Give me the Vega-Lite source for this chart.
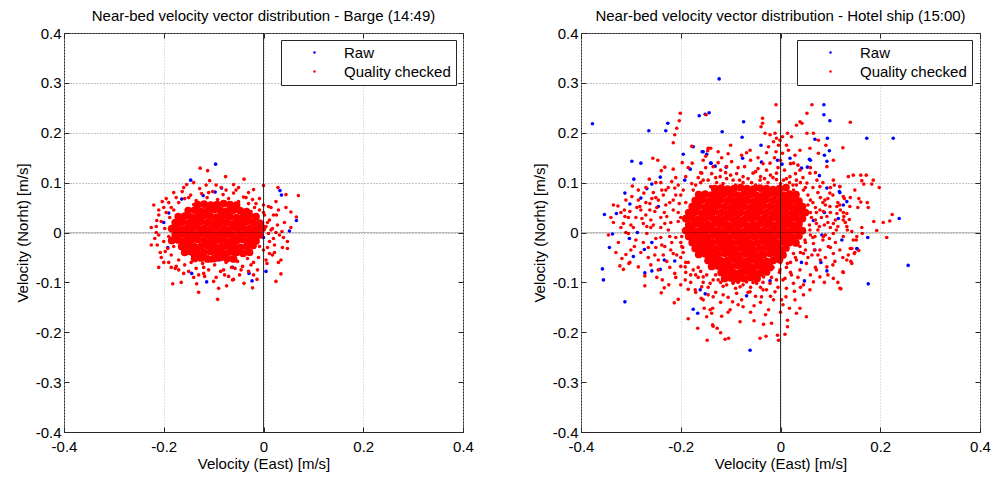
{
"$schema":"https://vega.github.io/schema/vega-lite/v6.json",
"padding":{"left":14,"top":8,"right":5,"bottom":5},
"background":"#ffffff",
"config":{
 "font":"Liberation Sans",
 "view":{"stroke":"#262626","strokeWidth":1},
 "axis":{"labelFont":"Liberation Sans","labelFontSize":15,"labelColor":"#000000","titleFont":"Liberation Sans","titleFontSize":15,"titleFontWeight":"normal","titleColor":"#000000","domain":false,"tickColor":"#262626","tickSize":-5,"tickWidth":1,"labelOverlap":false,"labelBound":false},
 "title":{"font":"Liberation Sans","fontSize":15,"fontWeight":"normal","color":"#000000","offset":2}
},
"bounds":"flush",
"spacing":118,
"resolve":{"scale":{"color":"independent"}},
"datasets":{
"L_raw":[{"x":-0.096,"y":0.137},{"x":-0.146,"y":0.105},{"x":0.033,"y":0.084},{"x":0.036,"y":0.075},{"x":0.066,"y":0.024},{"x":0.052,"y":0.003},{"x":-0.164,"y":0.067},{"x":-0.121,"y":0.074},{"x":-0.084,"y":0.089},{"x":-0.097,"y":0.081},{"x":-0.19,"y":0.039},{"x":-0.002,"y":0.02},{"x":-0.144,"y":-0.082},{"x":-0.114,"y":-0.099},{"x":-0.029,"y":-0.082},{"x":-0.023,"y":-0.097},{"x":0.005,"y":-0.078},{"x":-0.062,"y":-0.07},{"x":-0.09,"y":-0.055},{"x":-0.057,"y":-0.044},{"x":-0.142,"y":-0.047},{"x":-0.192,"y":-0.03},{"x":-0.04,"y":-0.016},{"x":0.0,"y":-0.01},{"x":-0.005,"y":0.005},{"x":-0.2,"y":0.02}],
"L_core":[
{"x":-0.132,"y":0.056},{"x":-0.119,"y":0.057},{"x":-0.106,"y":0.055},{"x":-0.093,"y":0.056},{"x":-0.080,"y":0.058},{"x":-0.067,"y":0.056},{"x":-0.054,"y":0.055},
{"x":-0.151,"y":0.044},{"x":-0.138,"y":0.045},{"x":-0.125,"y":0.043},{"x":-0.112,"y":0.044},{"x":-0.099,"y":0.046},{"x":-0.086,"y":0.044},{"x":-0.073,"y":0.043},{"x":-0.060,"y":0.045},{"x":-0.047,"y":0.044},{"x":-0.034,"y":0.042},
{"x":-0.171,"y":0.032},{"x":-0.158,"y":0.033},{"x":-0.145,"y":0.031},{"x":-0.132,"y":0.032},{"x":-0.119,"y":0.034},{"x":-0.106,"y":0.032},{"x":-0.093,"y":0.031},{"x":-0.080,"y":0.033},{"x":-0.067,"y":0.032},{"x":-0.054,"y":0.030},{"x":-0.041,"y":0.032},{"x":-0.028,"y":0.034},{"x":-0.015,"y":0.032},
{"x":-0.177,"y":0.020},{"x":-0.164,"y":0.021},{"x":-0.151,"y":0.019},{"x":-0.138,"y":0.020},{"x":-0.125,"y":0.022},{"x":-0.112,"y":0.020},{"x":-0.099,"y":0.019},{"x":-0.086,"y":0.021},{"x":-0.073,"y":0.020},{"x":-0.060,"y":0.018},{"x":-0.047,"y":0.020},{"x":-0.034,"y":0.022},{"x":-0.021,"y":0.020},{"x":-0.008,"y":0.019},
{"x":-0.184,"y":0.008},{"x":-0.171,"y":0.009},{"x":-0.158,"y":0.007},{"x":-0.145,"y":0.008},{"x":-0.132,"y":0.010},{"x":-0.119,"y":0.008},{"x":-0.106,"y":0.007},{"x":-0.093,"y":0.009},{"x":-0.080,"y":0.008},{"x":-0.067,"y":0.006},{"x":-0.054,"y":0.008},{"x":-0.041,"y":0.010},{"x":-0.028,"y":0.008},{"x":-0.015,"y":0.007},{"x":-0.002,"y":0.009},
{"x":-0.177,"y":-0.004},{"x":-0.164,"y":-0.003},{"x":-0.151,"y":-0.005},{"x":-0.138,"y":-0.004},{"x":-0.125,"y":-0.002},{"x":-0.112,"y":-0.004},{"x":-0.099,"y":-0.005},{"x":-0.086,"y":-0.003},{"x":-0.073,"y":-0.004},{"x":-0.060,"y":-0.006},{"x":-0.047,"y":-0.004},{"x":-0.034,"y":-0.002},{"x":-0.021,"y":-0.004},{"x":-0.008,"y":-0.005},
{"x":-0.184,"y":-0.016},{"x":-0.171,"y":-0.015},{"x":-0.158,"y":-0.017},{"x":-0.145,"y":-0.016},{"x":-0.132,"y":-0.014},{"x":-0.119,"y":-0.016},{"x":-0.106,"y":-0.017},{"x":-0.093,"y":-0.015},{"x":-0.080,"y":-0.016},{"x":-0.067,"y":-0.018},{"x":-0.054,"y":-0.016},{"x":-0.041,"y":-0.014},{"x":-0.028,"y":-0.016},{"x":-0.015,"y":-0.017},
{"x":-0.164,"y":-0.028},{"x":-0.151,"y":-0.027},{"x":-0.138,"y":-0.029},{"x":-0.125,"y":-0.028},{"x":-0.112,"y":-0.026},{"x":-0.099,"y":-0.028},{"x":-0.086,"y":-0.029},{"x":-0.073,"y":-0.027},{"x":-0.060,"y":-0.028},{"x":-0.047,"y":-0.030},{"x":-0.034,"y":-0.028},{"x":-0.021,"y":-0.026},
{"x":-0.158,"y":-0.040},{"x":-0.145,"y":-0.039},{"x":-0.132,"y":-0.041},{"x":-0.119,"y":-0.040},{"x":-0.106,"y":-0.038},{"x":-0.093,"y":-0.040},{"x":-0.080,"y":-0.041},{"x":-0.067,"y":-0.039},{"x":-0.054,"y":-0.040},{"x":-0.041,"y":-0.042},{"x":-0.028,"y":-0.040},
{"x":-0.138,"y":-0.052},{"x":-0.125,"y":-0.051},{"x":-0.112,"y":-0.053},{"x":-0.099,"y":-0.052},{"x":-0.086,"y":-0.050},{"x":-0.073,"y":-0.052},{"x":-0.060,"y":-0.053}],
"L_qc":[{"x":-0.127,"y":0.129},{"x":-0.112,"y":0.124},{"x":-0.108,"y":0.104},{"x":-0.076,"y":0.112},{"x":-0.039,"y":0.107},{"x":0.0,"y":0.094},{"x":0.029,"y":0.09},{"x":0.07,"y":0.074},{"x":0.055,"y":0.041},{"x":0.066,"y":0.031},{"x":0.045,"y":0.076},{"x":-0.203,"y":0.062},{"x":-0.214,"y":0.024},{"x":-0.225,"y":0.01},{"x":0.026,"y":0.035},{"x":0.037,"y":0.002},{"x":-0.154,"y":0.096},{"x":-0.06,"y":0.096},{"x":-0.02,"y":0.086},{"x":-0.225,"y":-0.025},{"x":-0.197,"y":-0.038},{"x":-0.182,"y":-0.103},{"x":-0.165,"y":-0.1},{"x":-0.134,"y":-0.103},{"x":-0.13,"y":-0.12},{"x":-0.092,"y":-0.134},{"x":-0.09,"y":-0.112},{"x":-0.074,"y":-0.107},{"x":-0.039,"y":-0.102},{"x":-0.022,"y":-0.111},{"x":-0.013,"y":-0.094},{"x":0.025,"y":-0.098},{"x":0.035,"y":-0.083},{"x":0.035,"y":-0.055},{"x":0.048,"y":-0.032},{"x":0.012,"y":-0.042},{"x":-0.12,"y":-0.082},{"x":-0.06,"y":-0.094},{"x":-0.057,"y":-0.072},{"x":-0.177,"y":-0.072},{"x":0.007,"y":-0.062},
{"x":-0.17,"y":0.06},{"x":-0.158,"y":0.068},{"x":-0.146,"y":0.075},{"x":-0.135,"y":0.064},{"x":-0.124,"y":0.078},{"x":-0.113,"y":0.07},{"x":-0.102,"y":0.082},{"x":-0.092,"y":0.066},{"x":-0.081,"y":0.076},{"x":-0.07,"y":0.068},{"x":-0.06,"y":0.079},{"x":-0.05,"y":0.062},{"x":-0.04,"y":0.071},{"x":-0.03,"y":0.058},{"x":-0.022,"y":0.066},{"x":-0.018,"y":0.05},{"x":-0.128,"y":0.088},{"x":-0.085,"y":0.09},{"x":-0.055,"y":0.085},{"x":-0.163,"y":0.082},{"x":-0.185,"y":0.05},{"x":-0.14,"y":0.056},{"x":-0.098,"y":0.058},{"x":-0.066,"y":0.054},
{"x":-0.195,"y":0.04},{"x":-0.205,"y":0.022},{"x":-0.198,"y":0.008},{"x":-0.21,"y":-0.005},{"x":-0.2,"y":-0.018},{"x":-0.192,"y":-0.032},{"x":-0.207,"y":-0.04},{"x":-0.185,"y":-0.045},{"x":-0.188,"y":0.03},{"x":-0.18,"y":0.045},{"x":-0.215,"y":0.012},{"x":-0.19,"y":-0.008},{"x":-0.18,"y":-0.028},{"x":-0.176,"y":0.018},
{"x":-0.025,"y":0.042},{"x":-0.015,"y":0.03},{"x":-0.008,"y":0.045},{"x":0.002,"y":0.035},{"x":0.012,"y":0.025},{"x":-0.02,"y":0.015},{"x":-0.01,"y":0.008},{"x":0.005,"y":0.012},{"x":0.018,"y":0.008},{"x":0.028,"y":0.015},{"x":0.01,"y":-0.002},{"x":-0.005,"y":-0.008},{"x":0.02,"y":-0.012},{"x":0.032,"y":-0.005},{"x":0.042,"y":0.02},{"x":0.048,"y":-0.018},{"x":-0.018,"y":-0.018},{"x":-0.008,"y":-0.028},{"x":0.008,"y":-0.03},{"x":0.022,"y":-0.04},{"x":-0.025,"y":-0.038},{"x":0.0,"y":0.055},{"x":0.015,"y":0.05},{"x":0.025,"y":0.062},{"x":-0.028,"y":0.025},{"x":-0.03,"y":-0.01},{"x":0.038,"y":-0.03},{"x":0.055,"y":0.01},
{"x":-0.17,"y":-0.055},{"x":-0.158,"y":-0.065},{"x":-0.145,"y":-0.06},{"x":-0.135,"y":-0.072},{"x":-0.122,"y":-0.062},{"x":-0.11,"y":-0.075},{"x":-0.098,"y":-0.065},{"x":-0.086,"y":-0.078},{"x":-0.075,"y":-0.06},{"x":-0.064,"y":-0.07},{"x":-0.052,"y":-0.058},{"x":-0.042,"y":-0.068},{"x":-0.032,"y":-0.052},{"x":-0.02,"y":-0.06},{"x":-0.012,"y":-0.075},{"x":-0.16,"y":-0.082},{"x":-0.118,"y":-0.088},{"x":-0.095,"y":-0.09},{"x":-0.078,"y":-0.085},{"x":-0.048,"y":-0.085},{"x":-0.03,"y":-0.078},{"x":-0.14,"y":-0.09},{"x":-0.175,"y":-0.068},{"x":-0.062,"y":-0.095},{"x":-0.105,"y":-0.057},
{"x":-0.2,"y":0.05},{"x":-0.21,"y":0.035},{"x":-0.213,"y":-0.025},{"x":-0.205,"y":-0.05},{"x":-0.19,"y":-0.06},{"x":-0.17,"y":-0.075},{"x":-0.15,"y":-0.078},{"x":-0.13,"y":-0.085},{"x":-0.08,"y":-0.075},{"x":-0.045,"y":-0.075},{"x":-0.025,"y":-0.065},{"x":-0.01,"y":-0.05},{"x":0.0,"y":-0.035},{"x":0.012,"y":-0.018},{"x":0.015,"y":0.005},{"x":0.008,"y":0.02},{"x":0.0,"y":0.04},{"x":-0.015,"y":0.058},{"x":-0.035,"y":0.07},{"x":-0.075,"y":0.085},{"x":-0.11,"y":0.08},{"x":-0.15,"y":0.07},{"x":-0.175,"y":0.07},{"x":-0.19,"y":0.06},{"x":-0.215,"y":0.0},{"x":0.03,"y":0.045},{"x":0.045,"y":0.05},{"x":0.04,"y":-0.01},{"x":0.022,"y":-0.025},{"x":0.03,"y":-0.06},{"x":-0.2,"y":-0.06},{"x":-0.115,"y":0.095},{"x":-0.1,"y":-0.098},{"x":-0.14,"y":0.1},
{"x":-0.21,"y":0.045},{"x":-0.218,"y":-0.012},{"x":-0.195,"y":0.068},{"x":-0.18,"y":0.08},{"x":-0.16,"y":0.09},{"x":-0.095,"y":0.095},{"x":-0.05,"y":0.09},{"x":-0.03,"y":0.08},{"x":-0.008,"y":0.068},{"x":0.01,"y":0.052},{"x":0.02,"y":0.035},{"x":0.025,"y":0.0},{"x":0.018,"y":-0.045},{"x":0.005,"y":-0.055},{"x":-0.02,"y":-0.085},{"x":-0.07,"y":-0.088},{"x":-0.12,"y":-0.07},{"x":-0.185,"y":-0.07},{"x":-0.21,"y":-0.07},{"x":-0.22,"y":0.055}],
"R_raw":[{"x":-0.377,"y":0.218},{"x":-0.264,"y":0.204},{"x":-0.23,"y":0.204},{"x":-0.226,"y":0.219},{"x":-0.163,"y":0.234},{"x":-0.151,"y":0.237},{"x":-0.143,"y":0.24},{"x":-0.298,"y":0.143},{"x":-0.28,"y":0.139},{"x":-0.294,"y":0.107},{"x":-0.258,"y":0.097},{"x":-0.241,"y":0.111},{"x":-0.195,"y":0.157},{"x":-0.175,"y":0.172},{"x":-0.157,"y":0.162},{"x":-0.14,"y":0.139},{"x":-0.268,"y":0.088},{"x":-0.312,"y":0.079},{"x":-0.353,"y":0.036},{"x":-0.329,"y":0.038},{"x":-0.302,"y":0.057},{"x":-0.28,"y":0.069},{"x":-0.192,"y":0.105},{"x":-0.181,"y":0.127},{"x":-0.245,"y":0.052},
{"x":-0.357,"y":-0.073},{"x":-0.355,"y":-0.095},{"x":-0.312,"y":-0.139},{"x":-0.343,"y":-0.03},{"x":-0.337,"y":-0.003},{"x":-0.272,"y":-0.081},{"x":-0.258,"y":-0.077},{"x":-0.241,"y":-0.074},{"x":-0.233,"y":-0.055},{"x":-0.295,"y":-0.048},{"x":-0.287,"y":0.0},{"x":-0.258,"y":-0.02},{"x":-0.175,"y":-0.154},{"x":-0.166,"y":-0.162},{"x":-0.151,"y":-0.123},{"x":-0.273,"y":-0.034},{"x":-0.303,"y":-0.012},{"x":-0.212,"y":-0.057},
{"x":-0.061,"y":-0.236},{"x":-0.149,"y":-0.057},{"x":-0.068,"y":-0.127},{"x":-0.021,"y":-0.097},{"x":0.042,"y":-0.06},{"x":0.048,"y":-0.097},{"x":0.069,"y":-0.035},{"x":0.081,"y":-0.06},{"x":0.093,"y":-0.077},{"x":0.083,"y":-0.005},{"x":0.066,"y":0.024},{"x":0.088,"y":0.04},{"x":0.116,"y":0.028},{"x":0.126,"y":0.055},{"x":0.133,"y":0.062},{"x":0.123,"y":-0.015},{"x":0.153,"y":-0.032},{"x":-0.054,"y":-0.075},{"x":-0.161,"y":-0.115},
{"x":0.087,"y":0.256},{"x":0.087,"y":0.236},{"x":0.099,"y":0.224},{"x":-0.117,"y":0.202},{"x":-0.077,"y":0.191},{"x":-0.074,"y":0.222},{"x":-0.039,"y":0.175},{"x":-0.076,"y":0.149},{"x":-0.155,"y":0.162},{"x":-0.148,"y":0.157},{"x":-0.139,"y":0.139},{"x":-0.131,"y":0.133},{"x":-0.109,"y":0.131},{"x":-0.006,"y":0.145},{"x":0.003,"y":0.137},{"x":-0.038,"y":0.141},{"x":0.019,"y":0.149},{"x":0.058,"y":0.147},{"x":0.06,"y":0.145},{"x":0.069,"y":0.187},{"x":0.094,"y":0.189},{"x":0.098,"y":0.164},{"x":0.093,"y":0.143},{"x":0.088,"y":0.155},{"x":0.042,"y":0.129},{"x":0.054,"y":0.131},{"x":0.078,"y":0.114},{"x":0.093,"y":0.089},{"x":0.118,"y":0.082},
{"x":0.173,"y":0.189},{"x":0.226,"y":0.189},{"x":0.238,"y":0.028},{"x":0.175,"y":-0.01},{"x":0.256,"y":-0.066},{"x":0.176,"y":-0.103},{"x":0.154,"y":-0.033},{"x":0.119,"y":0.092},{"x":0.119,"y":0.08},{"x":0.125,"y":0.298},{"x":-0.123,"y":0.308}],
"R_core":[
{"x":-0.132,"y":0.088},{"x":-0.119,"y":0.089},{"x":-0.106,"y":0.087},{"x":-0.093,"y":0.088},{"x":-0.080,"y":0.090},{"x":-0.067,"y":0.088},{"x":-0.054,"y":0.087},{"x":-0.041,"y":0.089},{"x":-0.028,"y":0.088},{"x":-0.015,"y":0.086},{"x":-0.002,"y":0.088},{"x":0.011,"y":0.090},
{"x":-0.164,"y":0.076},{"x":-0.151,"y":0.077},{"x":-0.138,"y":0.075},{"x":-0.125,"y":0.076},{"x":-0.112,"y":0.078},{"x":-0.099,"y":0.076},{"x":-0.086,"y":0.075},{"x":-0.073,"y":0.077},{"x":-0.060,"y":0.076},{"x":-0.047,"y":0.074},{"x":-0.034,"y":0.076},{"x":-0.021,"y":0.078},{"x":-0.008,"y":0.076},{"x":0.005,"y":0.075},{"x":0.018,"y":0.077},{"x":0.031,"y":0.076},
{"x":-0.171,"y":0.064},{"x":-0.158,"y":0.065},{"x":-0.145,"y":0.063},{"x":-0.132,"y":0.064},{"x":-0.119,"y":0.066},{"x":-0.106,"y":0.064},{"x":-0.093,"y":0.063},{"x":-0.080,"y":0.065},{"x":-0.067,"y":0.064},{"x":-0.054,"y":0.062},{"x":-0.041,"y":0.064},{"x":-0.028,"y":0.066},{"x":-0.015,"y":0.064},{"x":-0.002,"y":0.063},{"x":0.011,"y":0.065},{"x":0.024,"y":0.064},{"x":0.037,"y":0.063},
{"x":-0.177,"y":0.052},{"x":-0.164,"y":0.053},{"x":-0.151,"y":0.051},{"x":-0.138,"y":0.052},{"x":-0.125,"y":0.054},{"x":-0.112,"y":0.052},{"x":-0.099,"y":0.051},{"x":-0.086,"y":0.053},{"x":-0.073,"y":0.052},{"x":-0.060,"y":0.050},{"x":-0.047,"y":0.052},{"x":-0.034,"y":0.054},{"x":-0.021,"y":0.052},{"x":-0.008,"y":0.051},{"x":0.005,"y":0.053},{"x":0.018,"y":0.052},{"x":0.031,"y":0.051},{"x":0.044,"y":0.052},
{"x":-0.184,"y":0.040},{"x":-0.171,"y":0.041},{"x":-0.158,"y":0.039},{"x":-0.145,"y":0.040},{"x":-0.132,"y":0.042},{"x":-0.119,"y":0.040},{"x":-0.106,"y":0.039},{"x":-0.093,"y":0.041},{"x":-0.080,"y":0.040},{"x":-0.067,"y":0.038},{"x":-0.054,"y":0.040},{"x":-0.041,"y":0.042},{"x":-0.028,"y":0.040},{"x":-0.015,"y":0.039},{"x":-0.002,"y":0.041},{"x":0.011,"y":0.040},{"x":0.024,"y":0.039},{"x":0.037,"y":0.041},{"x":0.050,"y":0.040},
{"x":-0.190,"y":0.028},{"x":-0.177,"y":0.029},{"x":-0.164,"y":0.027},{"x":-0.151,"y":0.028},{"x":-0.138,"y":0.030},{"x":-0.125,"y":0.028},{"x":-0.112,"y":0.027},{"x":-0.099,"y":0.029},{"x":-0.086,"y":0.028},{"x":-0.073,"y":0.026},{"x":-0.060,"y":0.028},{"x":-0.047,"y":0.030},{"x":-0.034,"y":0.028},{"x":-0.021,"y":0.027},{"x":-0.008,"y":0.029},{"x":0.005,"y":0.028},{"x":0.018,"y":0.027},{"x":0.031,"y":0.029},{"x":0.044,"y":0.028},
{"x":-0.184,"y":0.016},{"x":-0.171,"y":0.017},{"x":-0.158,"y":0.015},{"x":-0.145,"y":0.016},{"x":-0.132,"y":0.018},{"x":-0.119,"y":0.016},{"x":-0.106,"y":0.015},{"x":-0.093,"y":0.017},{"x":-0.080,"y":0.016},{"x":-0.067,"y":0.014},{"x":-0.054,"y":0.016},{"x":-0.041,"y":0.018},{"x":-0.028,"y":0.016},{"x":-0.015,"y":0.015},{"x":-0.002,"y":0.017},{"x":0.011,"y":0.016},{"x":0.024,"y":0.015},{"x":0.037,"y":0.017},
{"x":-0.190,"y":0.004},{"x":-0.177,"y":0.005},{"x":-0.164,"y":0.003},{"x":-0.151,"y":0.004},{"x":-0.138,"y":0.006},{"x":-0.125,"y":0.004},{"x":-0.112,"y":0.003},{"x":-0.099,"y":0.005},{"x":-0.086,"y":0.004},{"x":-0.073,"y":0.002},{"x":-0.060,"y":0.004},{"x":-0.047,"y":0.006},{"x":-0.034,"y":0.004},{"x":-0.021,"y":0.003},{"x":-0.008,"y":0.005},{"x":0.005,"y":0.004},{"x":0.018,"y":0.003},{"x":0.031,"y":0.005},{"x":0.044,"y":0.004},
{"x":-0.184,"y":-0.008},{"x":-0.171,"y":-0.007},{"x":-0.158,"y":-0.009},{"x":-0.145,"y":-0.008},{"x":-0.132,"y":-0.006},{"x":-0.119,"y":-0.008},{"x":-0.106,"y":-0.009},{"x":-0.093,"y":-0.007},{"x":-0.080,"y":-0.008},{"x":-0.067,"y":-0.010},{"x":-0.054,"y":-0.008},{"x":-0.041,"y":-0.006},{"x":-0.028,"y":-0.008},{"x":-0.015,"y":-0.009},{"x":-0.002,"y":-0.007},{"x":0.011,"y":-0.008},{"x":0.024,"y":-0.009},{"x":0.037,"y":-0.007},
{"x":-0.177,"y":-0.020},{"x":-0.164,"y":-0.019},{"x":-0.151,"y":-0.021},{"x":-0.138,"y":-0.020},{"x":-0.125,"y":-0.018},{"x":-0.112,"y":-0.020},{"x":-0.099,"y":-0.021},{"x":-0.086,"y":-0.019},{"x":-0.073,"y":-0.020},{"x":-0.060,"y":-0.022},{"x":-0.047,"y":-0.020},{"x":-0.034,"y":-0.018},{"x":-0.021,"y":-0.020},{"x":-0.008,"y":-0.021},{"x":0.005,"y":-0.019},{"x":0.018,"y":-0.020},{"x":0.031,"y":-0.021},
{"x":-0.171,"y":-0.032},{"x":-0.158,"y":-0.031},{"x":-0.145,"y":-0.033},{"x":-0.132,"y":-0.032},{"x":-0.119,"y":-0.030},{"x":-0.106,"y":-0.032},{"x":-0.093,"y":-0.033},{"x":-0.080,"y":-0.031},{"x":-0.067,"y":-0.032},{"x":-0.054,"y":-0.034},{"x":-0.041,"y":-0.032},{"x":-0.028,"y":-0.030},{"x":-0.015,"y":-0.032},{"x":-0.002,"y":-0.033},{"x":0.011,"y":-0.031},
{"x":-0.164,"y":-0.044},{"x":-0.151,"y":-0.043},{"x":-0.138,"y":-0.045},{"x":-0.125,"y":-0.044},{"x":-0.112,"y":-0.042},{"x":-0.099,"y":-0.044},{"x":-0.086,"y":-0.045},{"x":-0.073,"y":-0.043},{"x":-0.060,"y":-0.044},{"x":-0.047,"y":-0.046},{"x":-0.034,"y":-0.044},{"x":-0.021,"y":-0.042},{"x":-0.008,"y":-0.044},{"x":0.005,"y":-0.045},
{"x":-0.145,"y":-0.056},{"x":-0.132,"y":-0.055},{"x":-0.119,"y":-0.057},{"x":-0.106,"y":-0.056},{"x":-0.093,"y":-0.054},{"x":-0.080,"y":-0.056},{"x":-0.067,"y":-0.057},{"x":-0.054,"y":-0.055},{"x":-0.041,"y":-0.056},{"x":-0.028,"y":-0.058},{"x":-0.015,"y":-0.056},{"x":-0.002,"y":-0.054},
{"x":-0.138,"y":-0.068},{"x":-0.125,"y":-0.067},{"x":-0.112,"y":-0.069},{"x":-0.099,"y":-0.068},{"x":-0.086,"y":-0.066},{"x":-0.073,"y":-0.068},{"x":-0.060,"y":-0.069},{"x":-0.047,"y":-0.067},{"x":-0.034,"y":-0.068},{"x":-0.021,"y":-0.070},
{"x":-0.119,"y":-0.080},{"x":-0.106,"y":-0.079},{"x":-0.093,"y":-0.081},{"x":-0.080,"y":-0.080},{"x":-0.067,"y":-0.078},{"x":-0.054,"y":-0.080},{"x":-0.041,"y":-0.081},{"x":-0.028,"y":-0.079},
{"x":-0.112,"y":-0.092},{"x":-0.099,"y":-0.091},{"x":-0.086,"y":-0.093},{"x":-0.073,"y":-0.092},{"x":-0.060,"y":-0.090},{"x":-0.047,"y":-0.092}],
"R_qc":[{"x":-0.201,"y":0.239},{"x":-0.203,"y":0.224},{"x":-0.208,"y":0.209},{"x":-0.212,"y":0.196},{"x":-0.215,"y":0.18},{"x":-0.178,"y":0.173},{"x":-0.15,"y":0.153},{"x":-0.14,"y":0.169},{"x":-0.256,"y":0.149},{"x":-0.246,"y":0.145},{"x":-0.232,"y":0.131},{"x":-0.215,"y":0.127},{"x":-0.197,"y":0.14},{"x":-0.239,"y":0.124},{"x":-0.263,"y":0.107},{"x":-0.274,"y":0.079},{"x":-0.326,"y":0.053},{"x":-0.297,"y":0.093},{"x":-0.218,"y":0.102},{"x":-0.212,"y":0.089},{"x":-0.177,"y":0.139},{"x":-0.158,"y":0.119},{"x":-0.146,"y":0.164},{"x":-0.238,"y":0.085},{"x":-0.258,"y":0.068},{"x":-0.282,"y":0.052},{"x":-0.252,"y":0.042},{"x":-0.228,"y":0.032},{"x":-0.312,"y":0.032},{"x":-0.302,"y":0.042},
{"x":-0.325,"y":-0.02},{"x":-0.322,"y":-0.067},{"x":-0.315,"y":-0.074},{"x":-0.31,"y":-0.044},{"x":-0.302,"y":-0.06},{"x":-0.293,"y":-0.028},{"x":-0.285,"y":-0.069},{"x":-0.272,"y":-0.107},{"x":-0.248,"y":-0.09},{"x":-0.245,"y":-0.055},{"x":-0.237,"y":-0.095},{"x":-0.233,"y":-0.111},{"x":-0.239,"y":-0.121},{"x":-0.224,"y":-0.105},{"x":-0.213,"y":-0.141},{"x":-0.205,"y":-0.134},{"x":-0.2,"y":-0.105},{"x":-0.191,"y":-0.095},{"x":-0.185,"y":-0.114},{"x":-0.171,"y":-0.115},{"x":-0.166,"y":-0.192},{"x":-0.185,"y":-0.173},{"x":-0.153,"y":-0.152},{"x":-0.141,"y":-0.155},{"x":-0.136,"y":-0.185},{"x":-0.138,"y":-0.162},{"x":-0.159,"y":-0.132},{"x":-0.268,"y":-0.002},{"x":-0.275,"y":0.018},{"x":-0.26,"y":0.01},{"x":-0.25,"y":-0.012},{"x":-0.305,"y":-0.002},{"x":-0.313,"y":0.045},{"x":-0.232,"y":-0.028},{"x":-0.222,"y":-0.008},{"x":-0.215,"y":-0.042},{"x":-0.198,"y":-0.028},{"x":-0.191,"y":-0.069},{"x":-0.212,"y":-0.082},{"x":-0.205,"y":0.022},{"x":-0.233,"y":0.04},{"x":-0.304,"y":-0.062},{"x":-0.272,"y":-0.087},
{"x":-0.147,"y":-0.216},{"x":-0.111,"y":-0.214},{"x":-0.104,"y":-0.212},{"x":-0.041,"y":-0.212},{"x":-0.029,"y":-0.208},{"x":-0.006,"y":-0.206},{"x":-0.004,"y":-0.216},{"x":0.009,"y":-0.204},{"x":-0.135,"y":-0.188},{"x":-0.127,"y":-0.192},{"x":-0.12,"y":-0.201},{"x":-0.081,"y":-0.179},{"x":-0.053,"y":-0.177},{"x":-0.034,"y":-0.184},{"x":-0.018,"y":-0.182},{"x":0.014,"y":-0.189},{"x":0.014,"y":-0.176},{"x":-0.148,"y":-0.169},{"x":-0.136,"y":-0.152},{"x":-0.118,"y":-0.168},{"x":-0.101,"y":-0.155},{"x":-0.096,"y":-0.139},{"x":-0.075,"y":-0.149},{"x":-0.053,"y":-0.147},{"x":-0.024,"y":-0.155},{"x":-0.014,"y":-0.135},{"x":0.002,"y":-0.135},{"x":0.018,"y":-0.152},{"x":0.032,"y":-0.162},{"x":0.039,"y":-0.152},{"x":0.052,"y":-0.169},{"x":0.011,"y":-0.129},{"x":0.029,"y":-0.135},{"x":0.046,"y":-0.125},{"x":-0.155,"y":-0.135},{"x":-0.135,"y":-0.129},{"x":-0.115,"y":-0.125},{"x":-0.088,"y":-0.122},{"x":-0.061,"y":-0.119},{"x":-0.038,"y":-0.129},{"x":-0.028,"y":-0.115},{"x":-0.011,"y":-0.119},{"x":0.012,"y":-0.112},{"x":0.026,"y":-0.102},{"x":0.046,"y":-0.105},{"x":0.066,"y":-0.099},{"x":0.059,"y":-0.115},{"x":0.079,"y":-0.089},{"x":0.072,"y":-0.075},{"x":0.093,"y":-0.069},{"x":0.106,"y":-0.092},{"x":0.119,"y":-0.112},{"x":0.109,"y":-0.058},{"x":0.125,"y":-0.079},{"x":0.133,"y":-0.055},{"x":0.143,"y":-0.062},{"x":0.148,"y":-0.042},{"x":0.14,"y":-0.032},{"x":0.119,"y":-0.035},{"x":0.106,"y":-0.042},{"x":0.096,"y":-0.028},{"x":0.079,"y":-0.035},{"x":0.063,"y":-0.045},{"x":0.052,"y":-0.062},{"x":0.039,"y":-0.075},{"x":0.022,"y":-0.085},{"x":0.009,"y":-0.092},{"x":0.032,"y":-0.055},{"x":0.046,"y":-0.042},{"x":0.066,"y":-0.022},{"x":0.086,"y":-0.008},{"x":0.106,"y":-0.002},{"x":0.126,"y":-0.008},{"x":0.143,"y":0.002},{"x":0.146,"y":-0.015},{"x":0.106,"y":0.018},{"x":0.126,"y":0.025},{"x":0.133,"y":0.038},{"x":0.113,"y":0.038},{"x":0.093,"y":0.032},{"x":0.079,"y":0.045},{"x":0.099,"y":0.052},{"x":0.119,"y":0.055},{"x":0.072,"y":0.018},{"x":0.059,"y":0.005},{"x":0.069,"y":-0.008},{"x":0.049,"y":-0.015},{"x":0.039,"y":-0.028},{"x":0.026,"y":-0.042},{"x":0.014,"y":-0.062},{"x":-0.001,"y":-0.075},{"x":-0.008,"y":-0.095},{"x":-0.021,"y":-0.102},{"x":-0.034,"y":-0.089},{"x":-0.048,"y":-0.102},{"x":-0.068,"y":-0.099},{"x":-0.081,"y":-0.109},{"x":-0.095,"y":-0.102},{"x":-0.108,"y":-0.105},{"x":-0.125,"y":-0.095},{"x":-0.141,"y":-0.102},{"x":-0.155,"y":-0.089},{"x":-0.158,"y":-0.109},
{"x":-0.009,"y":0.256},{"x":-0.036,"y":0.229},{"x":-0.036,"y":0.219},{"x":-0.003,"y":0.222},{"x":-0.039,"y":0.212},{"x":-0.031,"y":0.199},{"x":-0.021,"y":0.196},{"x":-0.011,"y":0.199},{"x":-0.008,"y":0.189},{"x":-0.001,"y":0.185},{"x":0.004,"y":0.192},{"x":-0.014,"y":0.182},{"x":-0.004,"y":0.175},{"x":-0.024,"y":0.172},{"x":0.014,"y":0.199},{"x":0.022,"y":0.192},{"x":0.032,"y":0.215},{"x":0.039,"y":0.222},{"x":0.043,"y":0.219},{"x":0.053,"y":0.239},{"x":0.063,"y":0.256},{"x":0.053,"y":0.199},{"x":0.066,"y":0.199},{"x":0.076,"y":0.185},{"x":0.091,"y":0.175},{"x":0.14,"y":0.221},{"x":0.125,"y":0.17},{"x":0.106,"y":0.145},{"x":0.093,"y":0.132},{"x":0.076,"y":0.159},{"x":0.059,"y":0.169},{"x":0.039,"y":0.165},{"x":0.029,"y":0.155},{"x":0.016,"y":0.165},{"x":0.026,"y":0.139},{"x":0.039,"y":0.125},{"x":0.059,"y":0.119},{"x":0.073,"y":0.105},{"x":0.053,"y":0.099},{"x":0.032,"y":0.105},{"x":0.019,"y":0.112},{"x":0.006,"y":0.105},{"x":-0.008,"y":0.119},{"x":-0.021,"y":0.139},{"x":-0.028,"y":0.125},{"x":-0.041,"y":0.105},{"x":-0.055,"y":0.119},{"x":-0.061,"y":0.165},{"x":-0.078,"y":0.155},{"x":-0.1,"y":0.175},{"x":-0.125,"y":0.162},{"x":-0.145,"y":0.169},{"x":-0.135,"y":0.132},{"x":-0.108,"y":0.132},{"x":-0.095,"y":0.105},{"x":-0.075,"y":0.112},{"x":-0.121,"y":0.112},{"x":-0.149,"y":0.236},{"x":-0.009,"y":0.162},{"x":0.004,"y":0.159},{"x":0.136,"y":0.112},{"x":0.146,"y":0.115},{"x":0.149,"y":0.085},{"x":0.119,"y":0.092},{"x":0.106,"y":0.105},{"x":0.099,"y":0.079},{"x":0.126,"y":0.072},{"x":0.139,"y":0.052},{"x":0.113,"y":0.052},{"x":0.089,"y":0.065},{"x":0.079,"y":0.092},{"x":0.046,"y":0.085},{"x":0.026,"y":0.085},{"x":-0.001,"y":0.092},{"x":0.086,"y":0.042},
{"x":0.161,"y":0.115},{"x":0.172,"y":0.115},{"x":0.163,"y":0.104},{"x":0.167,"y":0.097},{"x":0.186,"y":0.105},{"x":0.183,"y":0.097},{"x":0.198,"y":0.09},{"x":0.157,"y":0.068},{"x":0.161,"y":0.061},{"x":0.174,"y":0.06},{"x":0.176,"y":0.05},{"x":0.155,"y":0.05},{"x":0.138,"y":0.026},{"x":0.128,"y":0.068},{"x":0.224,"y":0.036},{"x":0.219,"y":0.023},{"x":0.206,"y":0.02},{"x":0.187,"y":0.022},{"x":0.193,"y":0.004},{"x":0.163,"y":0.01},{"x":0.164,"y":-0.002},{"x":0.153,"y":-0.008},{"x":0.213,"y":-0.01},{"x":0.152,"y":-0.015},{"x":0.143,"y":-0.032},{"x":0.157,"y":-0.036},{"x":0.149,"y":-0.04},{"x":0.136,"y":-0.045},{"x":0.141,"y":-0.058},{"x":0.126,"y":-0.08},{"x":0.121,"y":-0.113},{"x":0.133,"y":0.012},{"x":0.134,"y":0.005},{"x":0.126,"y":0.04},{"x":0.127,"y":0.032},
{"x":-0.29,"y":0.03},{"x":-0.28,"y":0.045},{"x":-0.27,"y":0.06},{"x":-0.26,"y":0.025},{"x":-0.25,"y":0.07},{"x":-0.24,"y":0.01},{"x":-0.23,"y":0.055},{"x":-0.22,"y":0.02},{"x":-0.215,"y":0.065},{"x":-0.205,"y":0.04},{"x":-0.2,"y":0.075},{"x":-0.21,"y":-0.01},{"x":-0.2,"y":-0.02},{"x":-0.22,"y":-0.035},{"x":-0.235,"y":-0.045},{"x":-0.25,"y":-0.03},{"x":-0.265,"y":-0.05},{"x":-0.28,"y":-0.04},{"x":-0.29,"y":-0.015},{"x":-0.3,"y":0.015},{"x":-0.31,"y":0.065},{"x":-0.32,"y":0.01},{"x":-0.335,"y":0.02},{"x":-0.345,"y":-0.005},{"x":-0.33,"y":-0.04},{"x":-0.27,"y":0.09},{"x":-0.25,"y":0.1},{"x":-0.23,"y":0.085},{"x":-0.205,"y":0.095},{"x":-0.195,"y":0.085},{"x":-0.19,"y":0.06},{"x":-0.195,"y":-0.04},{"x":-0.185,"y":-0.06},{"x":-0.2,"y":-0.05},{"x":-0.175,"y":-0.075},{"x":-0.19,"y":-0.08},{"x":-0.165,"y":-0.09},{"x":-0.18,"y":-0.1},{"x":-0.155,"y":-0.1},{"x":-0.17,"y":-0.12},
{"x":-0.17,"y":0.095},{"x":-0.155,"y":0.105},{"x":-0.14,"y":0.092},{"x":-0.13,"y":0.11},{"x":-0.115,"y":0.098},{"x":-0.1,"y":0.115},{"x":-0.09,"y":0.095},{"x":-0.075,"y":0.1},{"x":-0.065,"y":0.108},{"x":-0.05,"y":0.095},{"x":-0.04,"y":0.112},{"x":-0.025,"y":0.1},{"x":-0.015,"y":0.11},{"x":0.0,"y":0.098},{"x":0.012,"y":0.108},{"x":0.025,"y":0.095},{"x":0.04,"y":0.1},{"x":0.05,"y":0.09},{"x":-0.16,"y":0.12},{"x":-0.12,"y":0.125},{"x":-0.085,"y":0.13},{"x":-0.045,"y":0.128},{"x":-0.005,"y":0.13},{"x":0.035,"y":0.135},
{"x":0.055,"y":0.075},{"x":0.065,"y":0.06},{"x":0.06,"y":0.04},{"x":0.07,"y":0.025},{"x":0.058,"y":0.015},{"x":0.075,"y":0.005},{"x":0.065,"y":-0.01},{"x":0.08,"y":0.07},{"x":0.09,"y":0.055},{"x":0.1,"y":0.04},{"x":0.095,"y":0.02},{"x":0.085,"y":-0.015},{"x":0.1,"y":0.01},{"x":0.11,"y":-0.02},{"x":0.115,"y":0.06},{"x":0.105,"y":0.075},{"x":0.05,"y":-0.02},{"x":0.04,"y":-0.04},{"x":0.055,"y":-0.05},{"x":0.03,"y":-0.05},{"x":0.02,"y":-0.06},{"x":0.075,"y":-0.045},{"x":0.09,"y":-0.05},
{"x":-0.13,"y":-0.085},{"x":-0.1,"y":-0.09},{"x":-0.07,"y":-0.095},{"x":-0.05,"y":-0.09},{"x":-0.03,"y":-0.08},{"x":-0.015,"y":-0.07},{"x":0.0,"y":-0.06},{"x":-0.12,"y":-0.1},{"x":-0.085,"y":-0.1},{"x":-0.06,"y":-0.11},{"x":-0.04,"y":-0.11},
{"x":-0.215,"y":0.045},{"x":-0.222,"y":0.06},{"x":-0.21,"y":0.075},{"x":-0.225,"y":0.005},{"x":-0.218,"y":-0.02},{"x":-0.208,"y":-0.045},{"x":-0.24,"y":0.03},{"x":-0.245,"y":0.065},{"x":-0.235,"y":0.075},{"x":-0.255,"y":0.015},{"x":-0.262,"y":0.045},{"x":-0.27,"y":0.035},{"x":-0.24,"y":-0.01},{"x":-0.228,"y":-0.058},{"x":-0.26,"y":-0.065},{"x":-0.255,"y":0.08},{"x":-0.285,"y":0.065},{"x":-0.295,"y":0.01},{"x":-0.275,"y":-0.02},{"x":-0.285,"y":0.085},{"x":-0.31,"y":0.0},{"x":-0.3,"y":-0.035},{"x":-0.32,"y":0.04},{"x":-0.335,"y":0.055},{"x":-0.34,"y":0.03},{"x":-0.318,"y":-0.052},
{"x":-0.165,"y":0.11},{"x":-0.15,"y":0.13},{"x":-0.138,"y":0.118},{"x":-0.125,"y":0.14},{"x":-0.11,"y":0.12},{"x":-0.098,"y":0.142},{"x":-0.088,"y":0.118},{"x":-0.072,"y":0.132},{"x":-0.06,"y":0.145},{"x":-0.05,"y":0.122},{"x":-0.035,"y":0.138},{"x":-0.02,"y":0.115},{"x":-0.012,"y":0.15},{"x":0.008,"y":0.125},{"x":0.02,"y":0.138},{"x":0.03,"y":0.118},{"x":0.045,"y":0.11},{"x":-0.178,"y":0.098},{"x":-0.19,"y":0.112},{"x":-0.105,"y":0.158},{"x":-0.068,"y":0.16},{"x":-0.028,"y":0.16},{"x":0.012,"y":0.175},{"x":-0.155,"y":0.145},{"x":-0.185,"y":0.13},{"x":0.06,"y":0.13},{"x":0.07,"y":0.12},
{"x":0.065,"y":0.09},{"x":0.075,"y":0.08},{"x":0.085,"y":0.1},{"x":0.07,"y":0.05},{"x":0.082,"y":0.03},{"x":0.078,"y":0.012},{"x":0.09,"y":-0.005},{"x":0.068,"y":-0.035},{"x":0.08,"y":-0.055},{"x":0.095,"y":0.068},{"x":0.1,"y":0.09},{"x":0.11,"y":0.025},{"x":0.112,"y":0.005},{"x":0.12,"y":0.045},{"x":0.1,"y":-0.03},{"x":0.105,"y":-0.065},{"x":0.095,"y":-0.085},{"x":0.125,"y":-0.05},{"x":0.13,"y":0.02},{"x":0.14,"y":0.07},{"x":0.115,"y":-0.1},{"x":0.07,"y":-0.07},{"x":0.06,"y":-0.085},{"x":0.088,"y":-0.1},
{"x":-0.165,"y":-0.07},{"x":-0.17,"y":-0.085},{"x":-0.145,"y":-0.11},{"x":-0.13,"y":-0.12},{"x":-0.115,"y":-0.108},{"x":-0.105,"y":-0.13},{"x":-0.09,"y":-0.112},{"x":-0.078,"y":-0.135},{"x":-0.065,"y":-0.12},{"x":-0.05,"y":-0.128},{"x":-0.035,"y":-0.115},{"x":-0.02,"y":-0.128},{"x":-0.005,"y":-0.11},{"x":0.005,"y":-0.095},{"x":0.02,"y":-0.08},{"x":0.035,"y":-0.09},{"x":0.04,"y":-0.11},{"x":0.028,"y":-0.118},{"x":0.005,"y":-0.145},{"x":-0.04,"y":-0.14},{"x":-0.085,"y":-0.145},{"x":-0.12,"y":-0.14},{"x":-0.145,"y":-0.125},{"x":-0.105,"y":-0.16},{"x":-0.06,"y":-0.16},{"x":-0.03,"y":-0.165},{"x":0.0,"y":-0.16},{"x":-0.18,"y":-0.085},{"x":-0.19,"y":-0.06},{"x":-0.2,"y":-0.068},
{"x":-0.232,"y":0.018},{"x":-0.248,"y":0.05},{"x":-0.262,"y":0.058},{"x":-0.268,"y":0.012},{"x":-0.278,"y":0.028},{"x":-0.288,"y":0.05},{"x":-0.298,"y":0.072},{"x":-0.305,"y":0.03},{"x":-0.315,"y":0.018},{"x":-0.238,"y":-0.025},{"x":-0.252,"y":-0.045},{"x":-0.265,"y":-0.03},{"x":-0.225,"y":0.09},{"x":-0.24,"y":0.1},{"x":-0.21,"y":0.11},{"x":-0.222,"y":-0.07},{"x":-0.245,"y":-0.075},{"x":-0.21,"y":-0.09},{"x":-0.2,"y":0.03},{"x":-0.203,"y":0.058},{"x":-0.198,"y":-0.008},{"x":-0.196,"y":-0.03},
{"x":-0.16,"y":0.1},{"x":-0.145,"y":0.105},{"x":-0.128,"y":0.1},{"x":-0.108,"y":0.108},{"x":-0.082,"y":0.105},{"x":-0.058,"y":0.1},{"x":-0.032,"y":0.108},{"x":-0.008,"y":0.106},{"x":0.018,"y":0.1},{"x":0.032,"y":0.095},{"x":-0.175,"y":0.085},{"x":-0.118,"y":0.15},{"x":-0.045,"y":0.15},{"x":0.0,"y":0.145},
{"x":0.06,"y":0.065},{"x":0.062,"y":0.03},{"x":0.055,"y":0.055},{"x":0.06,"y":-0.005},{"x":0.05,"y":-0.035},{"x":0.072,"y":0.04},{"x":0.085,"y":0.06},{"x":0.088,"y":0.015},{"x":0.098,"y":-0.012},{"x":0.115,"y":0.012},{"x":0.108,"y":0.095},
{"x":-0.135,"y":-0.095},{"x":-0.115,"y":-0.095},{"x":-0.095,"y":-0.1},{"x":-0.075,"y":-0.105},{"x":-0.055,"y":-0.1},{"x":-0.035,"y":-0.1},{"x":-0.018,"y":-0.09},{"x":-0.002,"y":-0.08},{"x":0.012,"y":-0.07},{"x":-0.148,"y":-0.085},{"x":-0.16,"y":-0.078}]
},
"hconcat":[
{"width":399,"height":399,
 "title":{"text":"Near-bed velocity vector distribution - Barge (14:49)"},
 "resolve":{"axis":{"x":"independent","y":"independent"}},
 "layer":[
  {"data":{"name":"L_raw"},"mark":{"type":"circle","size":13,"opacity":1},
   "encoding":{
    "x":{"field":"x","type":"quantitative","scale":{"domain":[-0.4,0.4],"nice":false,"zero":false},
     "axis":{"orient":"bottom","values":[-0.4,-0.2,0,0.2,0.4],"title":"Velocity (East) [m/s]","labelFlush":false,"labelPadding":12,"titlePadding":2,"labelExpr":"datum.value == 0 ? '0' : (datum.value < 0 ? '-' : '') + format(abs(datum.value), '.1f')","grid":true,"gridColor":"#c4c4c4","gridDash":[1,2]}},
    "y":{"field":"y","type":"quantitative","scale":{"domain":[-0.4,0.4],"nice":false,"zero":false},
     "axis":{"orient":"left","values":[-0.4,-0.3,-0.2,-0.1,0,0.1,0.2,0.3,0.4],"title":"Velocity (Norht) [m/s]","labelPadding":8,"titlePadding":5,"labelExpr":"datum.value == 0 ? '0' : (datum.value < 0 ? '-' : '') + format(abs(datum.value), '.1f')","grid":true,"gridDash":[1,2],"gridColor":{"condition":{"test":"datum.value < 0","value":"transparent"},"value":"#8a8a8a"}}},
    "color":{"datum":"Raw","scale":{"domain":["Raw","Quality checked"],"range":["#0000ff","#ff0000"]},
     "legend":{"orient":"none","legendX":217,"legendY":7,"title":null,"fillColor":"#ffffff","strokeColor":"#262626","padding":5,"symbolSize":6,"symbolType":"circle","labelFontSize":15,"labelFont":"Liberation Sans","labelColor":"#000000","symbolOffset":21,"labelOffset":22,"rowPadding":3,"symbolStrokeWidth":0}}
   }},
  {"data":{"name":"L_core"},"mark":{"type":"circle","size":60,"opacity":1},
   "encoding":{"x":{"field":"x","type":"quantitative","axis":null},"y":{"field":"y","type":"quantitative","axis":null},"color":{"datum":"Quality checked"}}},
  {"data":{"name":"L_qc"},"mark":{"type":"circle","size":13,"opacity":1},
   "encoding":{"x":{"field":"x","type":"quantitative","axis":null},"y":{"field":"y","type":"quantitative","axis":null},"color":{"datum":"Quality checked"}}},
  {"data":{"values":[{}]},"mark":{"type":"rule","color":"#000000","opacity":0.8,"strokeWidth":1},
   "encoding":{"x":{"datum":0,"type":"quantitative","axis":{"orient":"top","values":[-0.4,-0.2,0,0.2,0.4],"labels":false,"title":null,"grid":false}}}},
  {"data":{"values":[{}]},"mark":{"type":"rule","color":"#000000","opacity":0.25,"strokeWidth":1},
   "encoding":{"y":{"datum":0,"type":"quantitative","axis":{"orient":"right","values":[-0.4,-0.3,-0.2,-0.1,0,0.1,0.2,0.3,0.4],"labels":false,"title":null,"grid":false}}}}
 ]},
{"width":399,"height":399,
 "title":{"text":"Near-bed velocity vector distribution - Hotel ship (15:00)"},
 "resolve":{"axis":{"x":"independent","y":"independent"}},
 "layer":[
  {"data":{"name":"R_raw"},"mark":{"type":"circle","size":13,"opacity":1},
   "encoding":{
    "x":{"field":"x","type":"quantitative","scale":{"domain":[-0.4,0.4],"nice":false,"zero":false},
     "axis":{"orient":"bottom","values":[-0.4,-0.2,0,0.2,0.4],"title":"Velocity (East) [m/s]","labelFlush":false,"labelPadding":12,"titlePadding":2,"labelExpr":"datum.value == 0 ? '0' : (datum.value < 0 ? '-' : '') + format(abs(datum.value), '.1f')","grid":true,"gridColor":"#c4c4c4","gridDash":[1,2]}},
    "y":{"field":"y","type":"quantitative","scale":{"domain":[-0.4,0.4],"nice":false,"zero":false},
     "axis":{"orient":"left","values":[-0.4,-0.3,-0.2,-0.1,0,0.1,0.2,0.3,0.4],"title":"Velocity (Norht) [m/s]","labelPadding":8,"titlePadding":5,"labelExpr":"datum.value == 0 ? '0' : (datum.value < 0 ? '-' : '') + format(abs(datum.value), '.1f')","grid":true,"gridDash":[1,2],"gridColor":{"condition":{"test":"datum.value < 0","value":"transparent"},"value":"#8a8a8a"}}},
    "color":{"datum":"Raw","scale":{"domain":["Raw","Quality checked"],"range":["#0000ff","#ff0000"]},
     "legend":{"orient":"none","legendX":216,"legendY":7,"title":null,"fillColor":"#ffffff","strokeColor":"#262626","padding":5,"symbolSize":6,"symbolType":"circle","labelFontSize":15,"labelFont":"Liberation Sans","labelColor":"#000000","symbolOffset":21,"labelOffset":22,"rowPadding":3,"symbolStrokeWidth":0}}
   }},
  {"data":{"name":"R_core"},"mark":{"type":"circle","size":60,"opacity":1},
   "encoding":{"x":{"field":"x","type":"quantitative","axis":null},"y":{"field":"y","type":"quantitative","axis":null},"color":{"datum":"Quality checked"}}},
  {"data":{"name":"R_qc"},"mark":{"type":"circle","size":13,"opacity":1},
   "encoding":{"x":{"field":"x","type":"quantitative","axis":null},"y":{"field":"y","type":"quantitative","axis":null},"color":{"datum":"Quality checked"}}},
  {"data":{"values":[{}]},"mark":{"type":"rule","color":"#000000","opacity":0.8,"strokeWidth":1},
   "encoding":{"x":{"datum":0,"type":"quantitative","axis":{"orient":"top","values":[-0.4,-0.2,0,0.2,0.4],"labels":false,"title":null,"grid":false}}}},
  {"data":{"values":[{}]},"mark":{"type":"rule","color":"#000000","opacity":0.25,"strokeWidth":1},
   "encoding":{"y":{"datum":0,"type":"quantitative","axis":{"orient":"right","values":[-0.4,-0.3,-0.2,-0.1,0,0.1,0.2,0.3,0.4],"labels":false,"title":null,"grid":false}}}}
 ]}
]
}
